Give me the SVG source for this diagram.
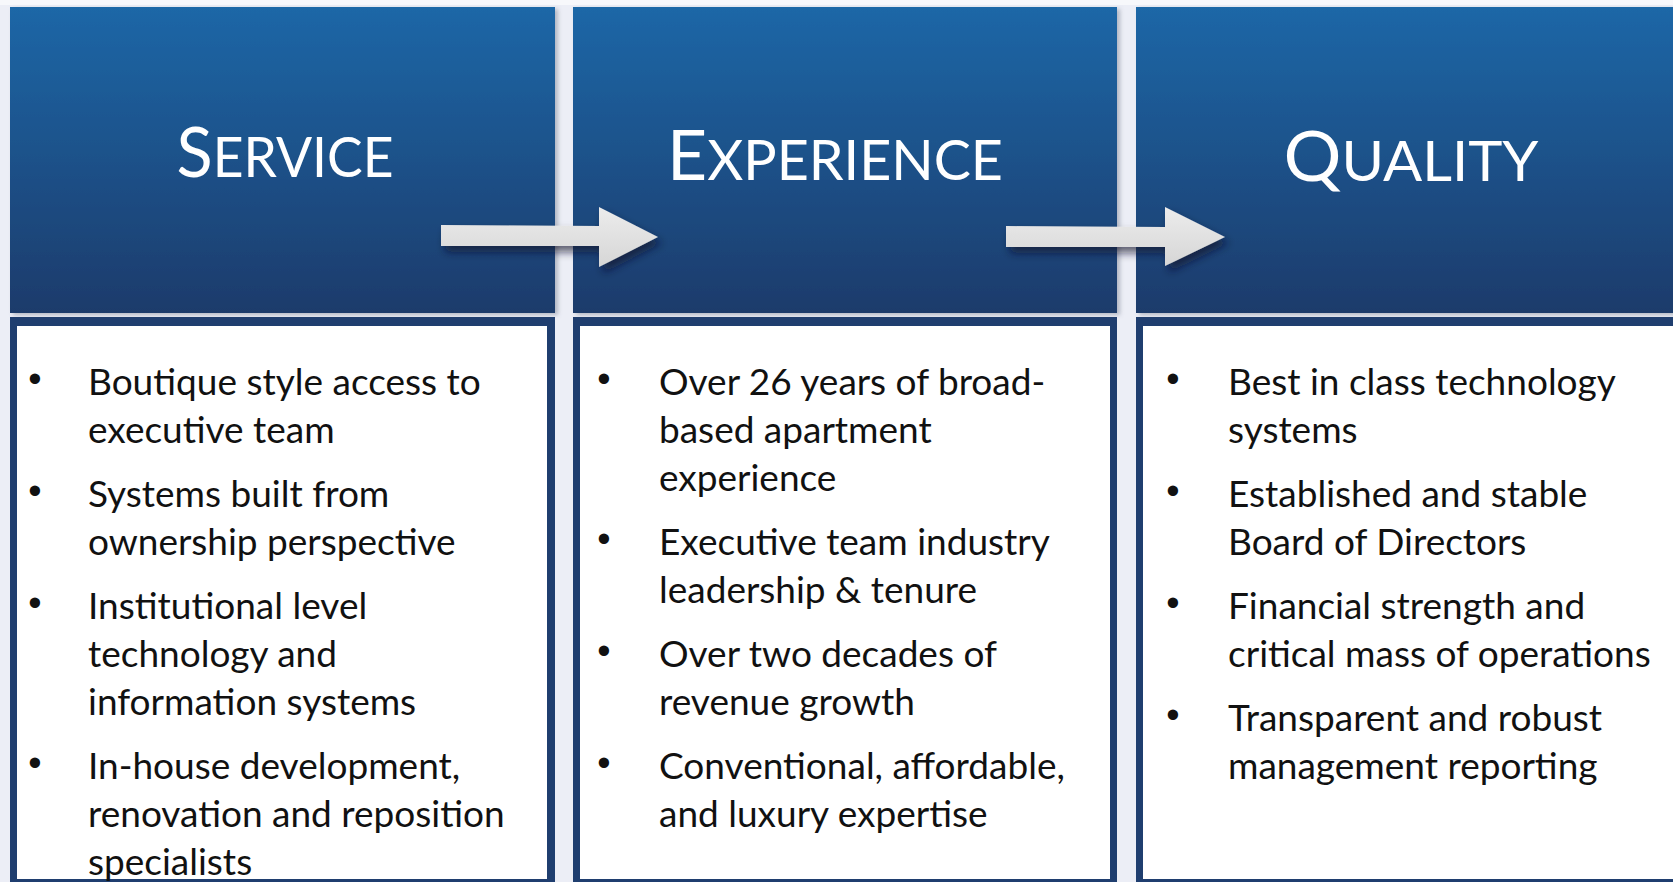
<svg xmlns="http://www.w3.org/2000/svg" width="1673" height="882" viewBox="0 0 1673 882">
<defs>
<linearGradient id="hdr" x1="0" y1="0" x2="0" y2="1">
<stop offset="0" stop-color="#1f67a7"/>
<stop offset="1" stop-color="#1b3b6b"/>
</linearGradient>
<linearGradient id="arr" x1="0" y1="0" x2="0" y2="1">
<stop offset="0" stop-color="#ececec"/>
<stop offset="1" stop-color="#d6d6d6"/>
</linearGradient>
<filter id="sh" x="-20%" y="-40%" width="150%" height="200%">
<feDropShadow dx="4" dy="6" stdDeviation="4" flood-color="#08152b" flood-opacity="0.65"/>
</filter>
<filter id="bsh" x="-5%" y="-5%" width="115%" height="115%">
<feDropShadow dx="3" dy="2" stdDeviation="2" flood-color="#6b7384" flood-opacity="0.45"/>
</filter>
</defs>
<style>
.hdr{fill:url(#hdr);filter:url(#bsh)}
.border{fill:#1f3e6f}
.inner{fill:#ffffff}
.title{font-family:Lato,"Liberation Sans",sans-serif;fill:#ffffff;text-anchor:middle}
.big{font-size:70px}
.sm{font-size:56px}
.body{font-family:Lato,"Liberation Sans",sans-serif;font-size:37px;fill:#111111}
.bul{font-family:"Liberation Sans",sans-serif;font-size:38px;fill:#111111;text-anchor:middle}
.arrow{fill:url(#arr);filter:url(#sh)}
</style>
<rect x="0" y="0" width="1673" height="882" fill="#eceef6"/>
<rect x="0" y="0" width="1673" height="5" fill="#f7f8fb"/>

<g id="service">
<rect class="hdr" x="10" y="7" width="545" height="306"/>
<text class="title" x="285" y="177" textLength="217" lengthAdjust="spacingAndGlyphs"><tspan class="big">S</tspan><tspan class="sm">ERVICE</tspan></text>
<rect class="border" x="10" y="317" width="545" height="570"/>
<rect class="inner" x="17" y="326" width="530" height="553"/>
<text class="bul" x="35" y="392">•</text>
<text class="body" x="88" y="395">Boutique style access to</text>
<text class="body" x="88" y="443">executive team</text>
<text class="bul" x="35" y="504">•</text>
<text class="body" x="88" y="507">Systems built from</text>
<text class="body" x="88" y="555">ownership perspective</text>
<text class="bul" x="35" y="616">•</text>
<text class="body" x="88" y="619">Institutional level</text>
<text class="body" x="88" y="667">technology and</text>
<text class="body" x="88" y="715">information systems</text>
<text class="bul" x="35" y="776">•</text>
<text class="body" x="88" y="779">In-house development,</text>
<text class="body" x="88" y="827">renovation and reposition</text>
<text class="body" x="88" y="875">specialists</text>
</g>

<g id="experience">
<rect class="hdr" x="573" y="7" width="544" height="306"/>
<text class="title" x="835" y="180" textLength="336" lengthAdjust="spacingAndGlyphs"><tspan class="big">E</tspan><tspan class="sm">XPERIENCE</tspan></text>
<rect class="border" x="573" y="317" width="544" height="570"/>
<rect class="inner" x="580" y="326" width="530" height="553"/>
<text class="bul" x="604" y="392">•</text>
<text class="body" x="659" y="395">Over 26 years of broad-</text>
<text class="body" x="659" y="443">based apartment</text>
<text class="body" x="659" y="491">experience</text>
<text class="bul" x="604" y="552">•</text>
<text class="body" x="659" y="555">Executive team industry</text>
<text class="body" x="659" y="603">leadership &amp; tenure</text>
<text class="bul" x="604" y="664">•</text>
<text class="body" x="659" y="667">Over two decades of</text>
<text class="body" x="659" y="715">revenue growth</text>
<text class="bul" x="604" y="776">•</text>
<text class="body" x="659" y="779">Conventional, affordable,</text>
<text class="body" x="659" y="827">and luxury expertise</text>
</g>

<g id="quality">
<rect class="hdr" x="1136" y="7" width="545" height="306"/>
<text class="title" x="1411" y="181" textLength="255" lengthAdjust="spacingAndGlyphs"><tspan class="big">Q</tspan><tspan class="sm">UALITY</tspan></text>
<rect class="border" x="1136" y="317" width="545" height="570"/>
<rect class="inner" x="1143" y="326" width="540" height="553"/>
<text class="bul" x="1173" y="392">•</text>
<text class="body" x="1228" y="395">Best in class technology</text>
<text class="body" x="1228" y="443">systems</text>
<text class="bul" x="1173" y="504">•</text>
<text class="body" x="1228" y="507">Established and stable</text>
<text class="body" x="1228" y="555">Board of Directors</text>
<text class="bul" x="1173" y="616">•</text>
<text class="body" x="1228" y="619">Financial strength and</text>
<text class="body" x="1228" y="667">critical mass of operations</text>
<text class="bul" x="1173" y="728">•</text>
<text class="body" x="1228" y="731">Transparent and robust</text>
<text class="body" x="1228" y="779">management reporting</text>
</g>

<g id="connectors">
<polygon class="arrow" points="441,225 599,226 599,207 658,237 599,267 599,246 441,246"/>
<polygon class="arrow" points="1006,226 1165,227 1165,207 1225,237 1165,266 1165,247 1006,247"/>
</g>
</svg>
